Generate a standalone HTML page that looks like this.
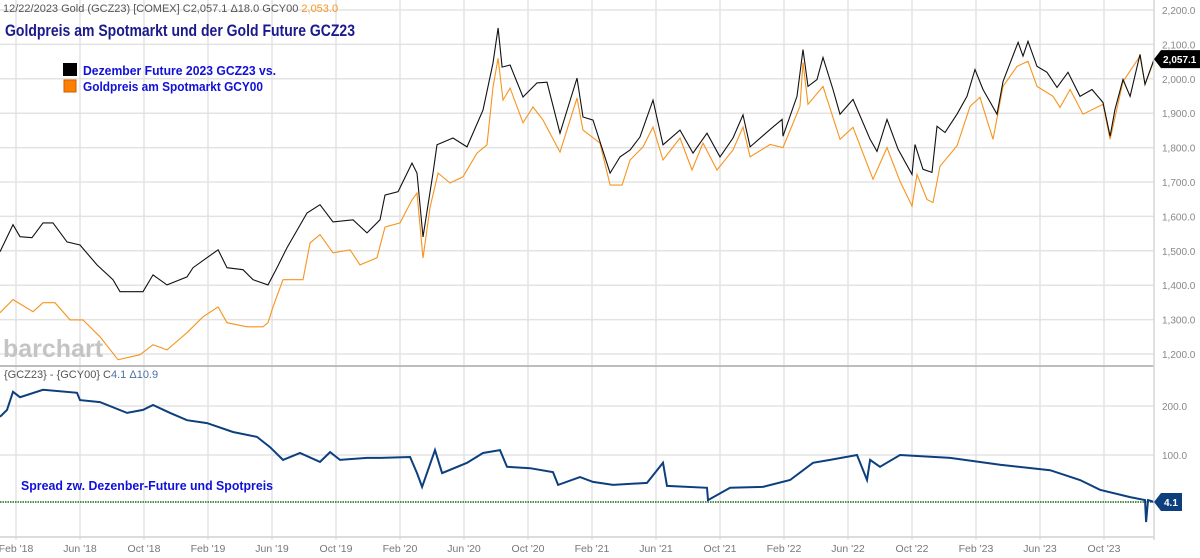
<!DOCTYPE html>
<html><head><meta charset="utf-8"><style>
html,body{margin:0;padding:0;background:#fff;}
svg{display:block;font-family:"Liberation Sans",sans-serif;}
</style></head><body>
<svg id="chart" width="1200" height="558" viewBox="0 0 1200 558" xmlns="http://www.w3.org/2000/svg">
<g id="grid"></g>
<text x="3" y="357" font-size="25" font-weight="bold" fill="#c4c4c4">barchart</text>
<g id="series"></g>
<g id="axes"></g>
<text x="3" y="12" font-size="11" fill="#555">12/22/2023 Gold (GCZ23) [COMEX] C2,057.1 Δ18.0 GCY00 <tspan fill="#f7941d">2,053.0</tspan></text>
<text x="5" y="36" font-size="17" font-weight="bold" fill="#1a1a8c" textLength="350" lengthAdjust="spacingAndGlyphs">Goldpreis am Spotmarkt und der Gold Future GCZ23</text>
<rect x="63" y="63" width="14" height="13" fill="#000"/>
<text x="83" y="75" font-size="13" font-weight="bold" fill="#1010d8" textLength="193" lengthAdjust="spacingAndGlyphs">Dezember Future 2023 GCZ23  vs.</text>
<rect x="64" y="80" width="12" height="12" fill="#ff8000" stroke="#c86000"/>
<text x="83" y="91" font-size="13" font-weight="bold" fill="#1010d8" textLength="180" lengthAdjust="spacingAndGlyphs">Goldpreis am Spotmarkt GCY00</text>
<text x="4" y="378" font-size="11" fill="#555">{GCZ23} - {GCY00} C<tspan fill="#4a6fa5">4.1 Δ10.9</tspan></text>
<text x="21" y="490" font-size="13" font-weight="bold" fill="#1010d8" textLength="252" lengthAdjust="spacingAndGlyphs">Spread zw. Dezenber-Future und Spotpreis</text>
</svg>
<script>
const xLabels = ["Feb '18","Jun '18","Oct '18","Feb '19","Jun '19","Oct '19","Feb '20","Jun '20","Oct '20","Feb '21","Jun '21","Oct '21","Feb '22","Jun '22","Oct '22","Feb '23","Jun '23","Oct '23"];
const xLabelMonths = [1,5,9,13,17,21,25,29,33,37,41,45,49,53,57,61,65,69];
const priceTicks = [2200,2100,2000,1900,1800,1700,1600,1500,1400,1300,1200];
const spreadTicks = [200,100];
const futureMonths = [0,.81,1.25,2,2.69,3.31,4.19,5,6.06,7.06,7.5,8.94,9.56,10.44,11.69,12.06,12.94,13.63,14.19,15.19,15.81,16.75,17.31,17.94,19.19,20,20.81,22.06,22.94,23.75,24.06,24.88,25.75,26.06,26.44,27.06,27.31,28.31,29.19,30.19,30.81,31.13,31.38,31.88,32.69,33.56,34.19,35,36.06,36.44,37.06,38.13,38.75,39.38,40,40.81,41.44,42.5,43.31,44.19,45,45.81,46.44,46.88,48.13,48.88,48.94,49.81,50.19,50.5,51.06,51.44,52.06,52.5,53.31,54.38,54.81,55.44,56.13,57,57.19,57.69,58.25,58.56,59.06,59.81,60.44,60.94,61.44,62.31,62.69,63.63,63.94,64.25,64.81,65.44,66.06,66.75,67.5,68.25,68.94,69.38,69.69,70.19,70.63,71.25,71.56,72.13];
const futurePrices = [1497,1576,1541,1538,1581,1581,1526,1517,1459,1416,1381,1381,1430,1401,1424,1451,1480,1503,1451,1445,1416,1401,1451,1509,1610,1634,1584,1590,1552,1590,1662,1672,1755,1726,1540,1726,1808,1828,1802,1909,2046,2148,2034,2040,1947,1988,1990,1842,2002,1889,1880,1726,1773,1793,1831,1938,1808,1851,1784,1842,1773,1828,1895,1802,1853,1882,1833,1949,2085,1978,1998,2062,1969,1897,1940,1824,1789,1882,1795,1722,1809,1737,1728,1862,1844,1897,1949,2027,1969,1897,1992,2106,2066,2109,2036,2019,1975,2019,1949,1969,1931,1833,1911,1998,1949,2071,1984,2057.1];
const spotMonths = [0,.81,2.06,2.69,3.44,4.38,5.19,6.25,7.38,8.75,9.56,10.44,11.69,12.69,13.63,14.19,15.44,16.44,16.75,17.06,17.69,18.94,19.38,20,20.81,21.88,22.5,23.56,24.06,25,25.75,26.06,26.44,26.88,27.38,28.13,28.94,29.81,30.44,30.81,31.13,31.44,31.88,32.69,33.31,33.94,35,36.06,36.44,37.5,38.13,38.88,39.38,40.19,40.81,41.44,42.5,43.25,43.94,44.81,45.81,46.44,46.88,48.13,48.94,50,50.19,50.5,51.44,52.5,53.31,54.56,55.44,56.25,57,57.31,57.94,58.31,58.75,59.81,60.63,61.25,62.06,62.69,63.56,64.25,64.81,65.81,66.25,66.88,67.69,68.94,69.38,70.19,71.25,71.56,72.13];
const spotPrices = [1320,1358,1323,1349,1349,1299,1299,1250,1183,1198,1227,1212,1262,1308,1337,1291,1279,1279,1291,1337,1416,1416,1523,1547,1494,1503,1459,1480,1569,1581,1648,1668,1479,1627,1726,1697,1715,1784,1808,1976,2060,1938,1973,1872,1918,1880,1787,1944,1851,1813,1691,1691,1764,1802,1860,1764,1828,1735,1813,1735,1793,1860,1773,1809,1800,1920,2048,1926,1978,1824,1859,1708,1800,1702,1630,1722,1649,1640,1746,1805,1920,1946,1824,1978,2036,2051,1978,1949,1917,1969,1897,1926,1824,1992,2066,1984,2053];
const spreadMonths = [0,.44,.81,1.25,2.69,4.81,5,6.25,7.94,8.94,9.56,10.63,11.69,12.94,14.56,16.06,16.88,17.69,18.75,20,20.63,21.25,22.94,23.75,25.63,26.06,26.38,27.19,27.63,29.19,30.19,31.25,31.69,33.13,34.56,34.88,36.25,37.06,38.31,40.44,41.44,41.69,44.19,44.25,45.63,47.69,49.38,50.81,51.88,53.56,54.19,54.38,55,56.25,59.38,62.5,65.63,67.5,68.75,70.63,71.56,71.63,71.75,72.13];
const spreadValues = [178,192,229,218,233,227,212,208,186,192,202,186,171,165,147,137,116,90,104,86,106,90,94,94,96,63,35,110,63,84,104,110,76,73,65,39,55,45,39,43,84,37,33,8,33,35,49,84,90,100,49,90,76,100,94,80,69,49,29,14,8,-37,8,4.1];

const NS="http://www.w3.org/2000/svg";
const PLOT_R=1154;
function xS(m){return m*16;}
function yP(p){return 10+(2200-p)*0.344;}
function yS(v){return 504-v*0.49;}
function mk(tag,attrs,parent){const e=document.createElementNS(NS,tag);for(const k in attrs)e.setAttribute(k,attrs[k]);parent.appendChild(e);return e;}
const grid=document.getElementById('grid'),axes=document.getElementById('axes'),series=document.getElementById('series');

priceTicks.forEach(p=>{
  const l=mk('line',{x1:0,x2:PLOT_R,y1:yP(p),y2:yP(p),stroke:'#e3e3e3','stroke-width':1.5},grid);
  
  
  const t=mk('text',{x:1162,y:yP(p)+4,'font-size':10,fill:'#888'},axes);
  t.textContent=p.toLocaleString('en-US',{minimumFractionDigits:1});
  
  
});
spreadTicks.forEach(v=>{
  const l=mk('line',{x1:0,x2:PLOT_R,y1:yS(v),y2:yS(v),stroke:'#e3e3e3','stroke-width':1.5},grid);
  
  
  const t=mk('text',{x:1162,y:yS(v)+4,'font-size':10,fill:'#888'},axes);
  t.textContent=v.toFixed(1);
  
  
});
xLabelMonths.forEach((m,i)=>{
  const l=mk('line',{x1:xS(m),x2:xS(m),y1:0,y2:540,stroke:'#e3e3e3','stroke-width':1.5},grid);
  
  
  const t=mk('text',{x:xS(m),y:552,'font-size':10.5,fill:'#777','text-anchor':'middle'},axes);
  t.textContent=xLabels[i];
  
  
});
const sep=mk('line',{x1:0,x2:PLOT_R,y1:366,y2:366,stroke:'#bdbdbd','stroke-width':2},axes);


const bax=mk('line',{x1:0,x2:PLOT_R,y1:537,y2:537,stroke:'#d0d0d0','stroke-width':1.5},axes);


const rax=mk('line',{x1:PLOT_R,x2:PLOT_R,y1:0,y2:540,stroke:'#d6d6d6','stroke-width':1.5},axes);


const zl=mk('line',{x1:0,x2:PLOT_R,y1:yS(4.1),y2:yS(4.1),stroke:'#4f8f4f','stroke-width':2,'stroke-dasharray':'1.5 1'},series);



function pts(ms,vs,yf){return ms.map((m,i)=>xS(m).toFixed(1)+','+yf(vs[i]).toFixed(1)).join(' ');}
const sp=mk('polyline',{points:pts(spotMonths,spotPrices,yP),fill:'none',stroke:'#f7941d','stroke-width':1.1},series);


const fu=mk('polyline',{points:pts(futureMonths,futurePrices,yP),fill:'none',stroke:'#111','stroke-width':1.1},series);


const sr=mk('polyline',{points:pts(spreadMonths,spreadValues,yS),fill:'none',stroke:'#0d3f7f','stroke-width':2},series);



const lastF=futurePrices[futurePrices.length-1], yF=yP(lastF);
const tg=mk('polygon',{points:`1154,${yF} 1161,${yF-9} 1200,${yF-9} 1200,${yF+9} 1161,${yF+9}`,fill:'#000'},axes);


const tt=mk('text',{x:1163,y:yF+4,'font-size':10,'font-weight':'bold',fill:'#fff'},axes);
tt.textContent=lastF.toLocaleString('en-US',{minimumFractionDigits:1});


const lastS=spreadValues[spreadValues.length-1], ySp=yS(lastS);
const tg2=mk('polygon',{points:`1154,${ySp} 1161,${ySp-9} 1182,${ySp-9} 1182,${ySp+9} 1161,${ySp+9}`,fill:'#0d3f7f'},axes);


const tt2=mk('text',{x:1164,y:ySp+4,'font-size':10,'font-weight':'bold',fill:'#fff'},axes);
tt2.textContent=lastS.toFixed(1);


</script>
</body></html>
